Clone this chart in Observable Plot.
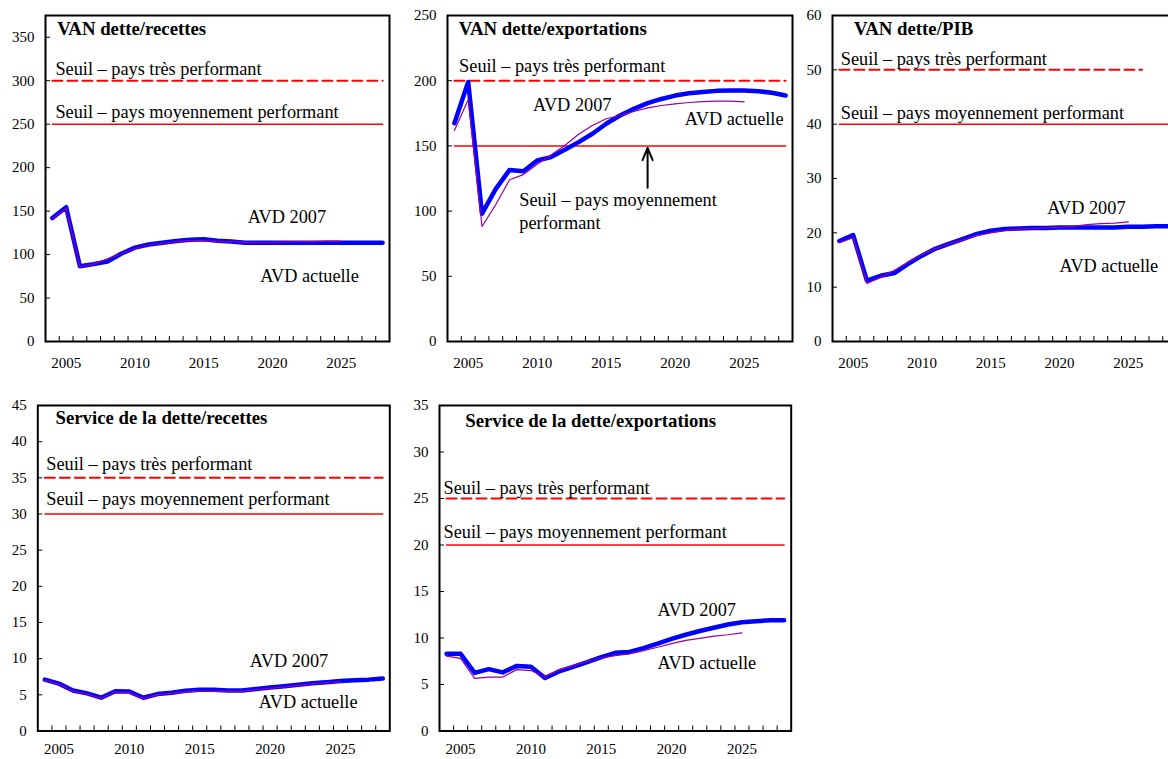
<!DOCTYPE html>
<html><head><meta charset="utf-8">
<script src="https://cdn.jsdelivr.net/npm/d3@7"></script>
<script src="https://cdn.jsdelivr.net/npm/@observablehq/plot@0.6"></script>
<style>
html,body{margin:0;padding:0;background:#fff;overflow:hidden;width:1168px;height:759px}
#wrap{position:relative;width:1168px;height:759px;overflow:hidden;background:#fff}
#wrap svg{position:absolute}
</style></head><body><div id="wrap"></div>
<script>
// ---------- DATA ----------
const years = [2004,2005,2006,2007,2008,2009,2010,2011,2012,2013,2014,2015,2016,2017,2018,2019,2020,2021,2022,2023,2024,2025,2026,2027,2028];
const yearsPurple = years.slice(0, 22); // 2004–2025
const labelYears = [2005, 2010, 2015, 2020, 2025];

const vanRecettesBlue   = [142,154.5,86.5,89,92,101,108,111.5,113.5,115.5,117,117.5,116,115,113.5,113.5,113.5,113.5,113.5,113.5,113.5,113.5,113.5,113.5,113.5];
const vanRecettesPurple = [141,153,86,89,95,101,107,111,113,115,116,116,115,115,114,114,114,114.5,115,115,115.5,115.5];

const vanExportBlue   = [167.4,199,98,117,131.6,130.6,138.8,141.4,147,152.9,159.3,167,173.3,178.4,182.8,186,188.6,190.4,191.4,192.2,192.5,192.5,192,190.7,188.6];
const vanExportPurple = [161.8,185.3,88.2,105,124,128,136,143,150.3,159,165.6,170.8,173.3,176.4,179.2,181,182.3,183.3,184,184.3,184.3,183.8];

const vanPibBlue   = [18.5,19.6,11.2,12.1,12.6,14.3,15.8,17.1,18,18.9,19.8,20.4,20.7,20.8,20.9,20.9,21.0,21.0,21.0,21.0,21.0,21.1,21.1,21.2,21.2];
const vanPibPurple = [18.2,19.1,10.7,11.8,13.1,14.6,16,17.1,18,18.7,19.5,20,20.4,20.7,20.8,20.9,21.0,21.2,21.5,21.7,21.8,22.0];

const sdRecettesBlue   = [7.1,6.55,5.6,5.2,4.6,5.5,5.45,4.6,5.1,5.3,5.55,5.7,5.7,5.6,5.6,5.8,6.0,6.2,6.4,6.6,6.75,6.9,7.0,7.1,7.25];
const sdRecettesPurple = [7.0,6.5,5.5,5.1,4.5,5.4,5.3,4.5,5.0,5.2,5.4,5.5,5.5,5.5,5.5,5.7,5.9,6.1,6.3,6.5,6.7,6.8];

const sdExportBlue   = [8.3,8.3,6.25,6.65,6.3,7.0,6.9,5.7,6.4,6.9,7.4,7.95,8.4,8.5,8.9,9.4,9.9,10.35,10.75,11.1,11.45,11.7,11.8,11.9,11.9];
const sdExportPurple = [8.05,7.8,5.65,5.8,5.8,6.6,6.5,5.8,6.6,7.0,7.5,7.85,8.1,8.3,8.65,9.0,9.4,9.75,9.95,10.2,10.35,10.55];

const titles = ["VAN dette/recettes","VAN dette/exportations","VAN dette/PIB","Service de la dette/recettes","Service de la dette/exportations"];
const seuilTres = [300, 200, 50, 35, 25];
const seuilMoyen = [250, 150, 40, 30, 20];
const yMax = [375, 250, 60, 45, 35];
const yTicks = [
  [0,50,100,150,200,250,300,350],
  [0,50,100,150,200,250],
  [0,10,20,30,40,50,60],
  [0,5,10,15,20,25,30,35,40,45],
  [0,5,10,15,20,25,30,35]
];
const labelTres = "Seuil – pays très performant";
const labelMoyen = "Seuil – pays moyennement performant";
const labelAvd2007 = "AVD 2007";
const labelActuelle = "AVD actuelle";

// ---------- LAYOUT ----------
const layout = [
  {left:0, top:0, ml:45, fw:344, fh:326, xPad:16, titleDx:11.7, titleDy:19, tresDx:3, tresDy:-6, moyDx:3, moyDy:-6.5,
   a07:[2018.2,136], act:[2019.1,68], tresEnd:2028},
  {left:401.7, top:0, ml:45, fw:345, fh:326, xPad:16, titleDx:11.3, titleDy:19.5, tresDx:4.7, tresDy:-8.5, moyDx:0, moyDy:0,
   a07:[2009.7,176.6], act:[2020.7,166.4], tresEnd:2028, moyenSeparate:true},
  {left:786.7, top:0, ml:45, fw:344, fh:326, xPad:16, titleDx:21.6, titleDy:19.3, tresDx:1.4, tresDy:-5, moyDx:1.4, moyDy:-4.7,
   a07:[2019.1,23.5], act:[2020.0,12.75], tresEnd:2026},
  {left:0, top:390, ml:37.3, fw:352, fh:325.5, xPad:12, titleDx:17.7, titleDy:18.3, tresDx:1.4, tresDy:-8, moyDx:1.4, moyDy:-9.3,
   a07:[2018.56,8.86], act:[2019.2,3.14], tresEnd:2028},
  {left:394.3, top:390, ml:45, fw:351.7, fh:325.5, xPad:12, titleDx:25.7, titleDy:21.7, tresDx:-3, tresDy:-4, moyDx:-3, moyDy:-7,
   a07:[2019.0,12.36], act:[2019.0,6.7], tresEnd:2028}
];

const series = [
  [vanRecettesBlue, vanRecettesPurple],
  [vanExportBlue, vanExportPurple],
  [vanPibBlue, vanPibPurple],
  [sdRecettesBlue, sdRecettesPurple],
  [sdExportBlue, sdExportPurple]
];

const FONT = "'Liberation Serif','Times New Roman',serif";
const TXT = 18.3;
const TITLE = 18.8;
const TICK = 15;
const boundaryTicks = years.slice(1).map(y => y - 0.5);
const wrap = document.getElementById("wrap");

series.forEach(([blue, purple], k) => {
  const L = layout[k];
  const blueData = years.map((yr, i) => ({year: yr, v: blue[i]}));
  const purpleData = yearsPurple.map((yr, i) => ({year: yr, v: purple[i]}));
  const thrHigh = [{year: years[0], v: seuilTres[k]}, {year: L.tresEnd, v: seuilTres[k]}];
  const thrLow = [{year: years[0], v: seuilMoyen[k]}, {year: years[years.length-1], v: seuilMoyen[k]}];

  const marks = [
    Plot.line(thrHigh, {x:"year", y:"v", stroke:"#ff0000", strokeWidth:2, strokeDasharray:"10,5"}),
    Plot.line(thrLow, {x:"year", y:"v", stroke:"#ff0000", strokeWidth:1.5}),
    Plot.line(blueData, {x:"year", y:"v", stroke:"#0000ff", strokeWidth:4.5}),
    Plot.line(purpleData, {x:"year", y:"v", stroke:"#990099", strokeWidth:1.2}),
    Plot.axisY({ticks: yTicks[k], tickSize: 0, tickPadding: 11, tickFormat: "d", fontSize: TICK, label: null}),
    Plot.axisY({ticks: yTicks[k], tickSize: -5, text: null, label: null}),
    Plot.axisX({ticks: labelYears, tickSize: 0, tickPadding: L.xPad, tickFormat: "d", fontSize: TICK, label: null}),
    Plot.axisX({ticks: boundaryTicks, tickSize: -5, text: null, label: null}),
    Plot.frame({stroke: "black", strokeWidth: 2}),
    Plot.text([titles[k]], {frameAnchor: "top-left", text: d => d, dx: L.titleDx, dy: L.titleDy,
      textAnchor: "start", lineAnchor: "bottom", fontWeight: "bold", fontSize: TITLE}),
    Plot.text([{year: years[0], v: seuilTres[k], t: labelTres}], {x: "year", y: "v", text: "t", dx: L.tresDx, dy: L.tresDy,
      textAnchor: "start", lineAnchor: "bottom", fontSize: TXT}),
    Plot.text([{year: L.a07[0], v: L.a07[1], t: labelAvd2007}], {x: "year", y: "v", text: "t",
      textAnchor: "start", lineAnchor: "bottom", fontSize: TXT}),
    Plot.text([{year: L.act[0], v: L.act[1], t: labelActuelle}], {x: "year", y: "v", text: "t",
      textAnchor: "start", lineAnchor: "bottom", fontSize: TXT})
  ];
  if (L.moyenSeparate) {
    marks.push(Plot.text([{year: 2008.7, v: 86.4, t: "Seuil – pays moyennement\nperformant"}], {x: "year", y: "v", text: "t",
      textAnchor: "start", lineAnchor: "bottom", fontSize: TXT, lineHeight: 1.24}));
    marks.push(Plot.arrow([{year: 2018, y1: 118, y2: 148.5}], {x: "year", y1: "y1", y2: "y2",
      stroke: "black", strokeWidth: 2, headLength: 10, headAngle: 45}));
  } else {
    marks.push(Plot.text([{year: years[0], v: seuilMoyen[k], t: labelMoyen}], {x: "year", y: "v", text: "t", dx: L.moyDx, dy: L.moyDy,
      textAnchor: "start", lineAnchor: "bottom", fontSize: TXT}));
  }

  const mt = 15, mr = 8, mb = 30;
  const svg = Plot.plot({
    width: L.ml + L.fw + mr,
    height: mt + L.fh + mb,
    marginLeft: L.ml, marginRight: mr, marginTop: mt, marginBottom: mb,
    x: {domain: [years[0] - 0.5, years[years.length-1] + 0.5], label: null},
    y: {domain: [0, yMax[k]], label: null},
    style: {fontFamily: FONT, fontSize: "15px", color: "black", background: "transparent", overflow: "visible"},
    marks
  });
  svg.style.left = L.left + "px";
  svg.style.top = L.top + "px";
  wrap.appendChild(svg);
});
</script></body></html>
